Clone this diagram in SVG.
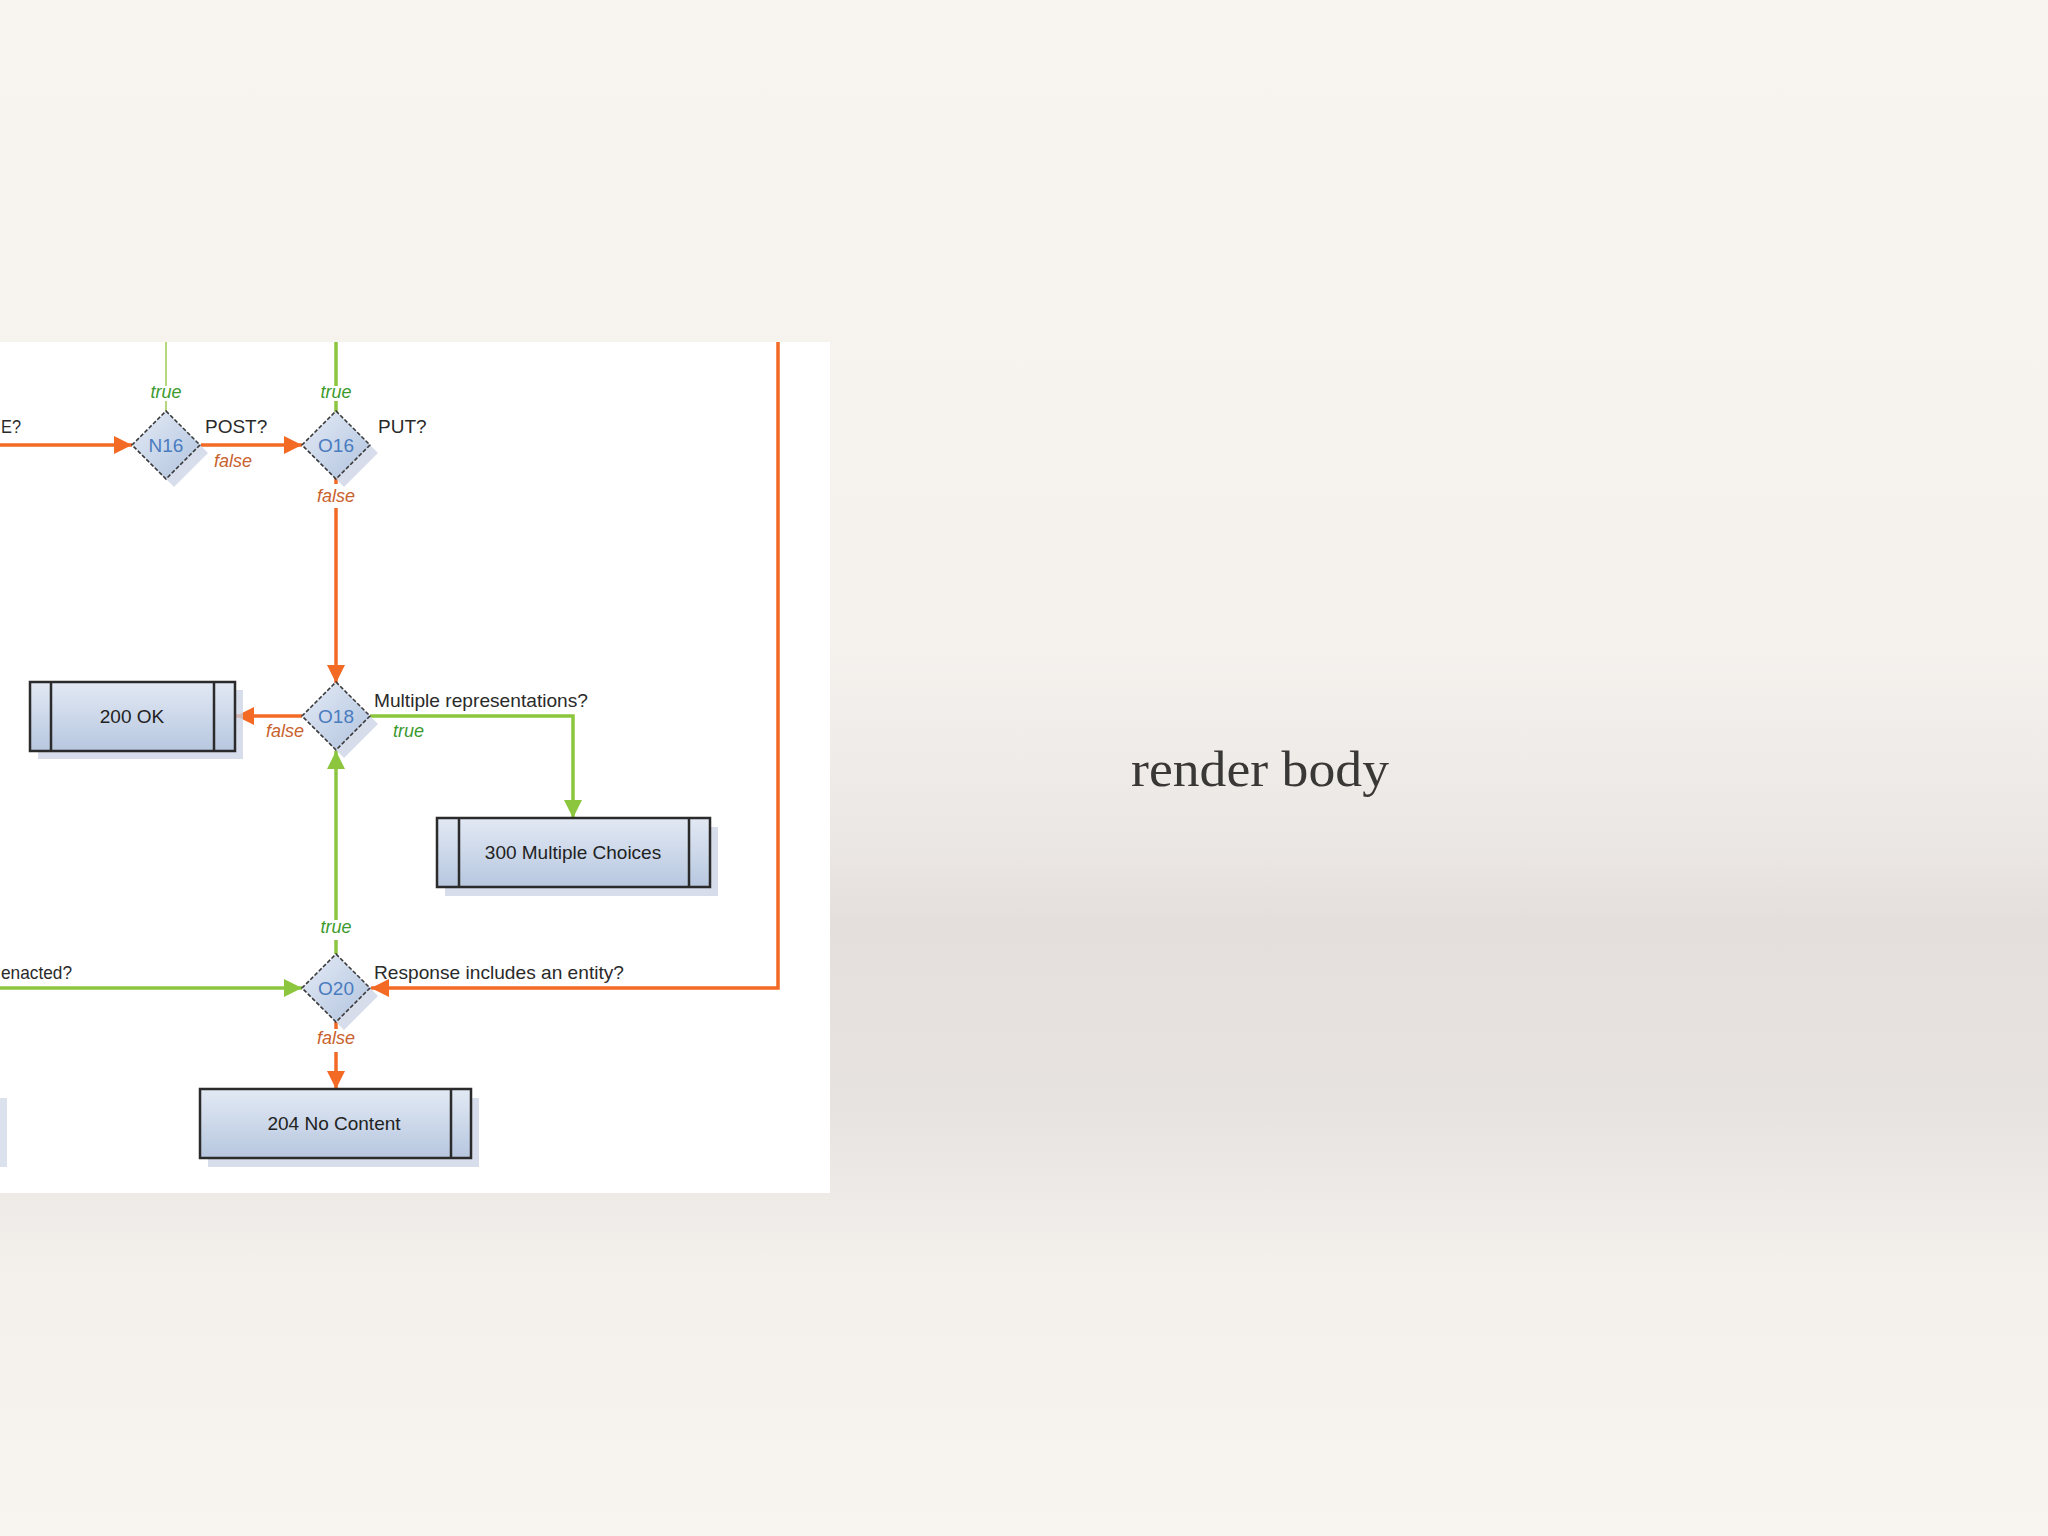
<svg xmlns="http://www.w3.org/2000/svg" width="2048" height="1536" viewBox="0 0 2048 1536">
<defs>
  <linearGradient id="bg" x1="0" y1="0" x2="0" y2="1">
    <stop offset="0" stop-color="#f8f5f0"/>
    <stop offset="0.42" stop-color="#f5f2ee"/>
    <stop offset="0.55" stop-color="#ebe7e4"/>
    <stop offset="0.6" stop-color="#e4dfdd"/>
    <stop offset="0.72" stop-color="#e7e3e0"/>
    <stop offset="0.82" stop-color="#f3f0ec"/>
    <stop offset="1" stop-color="#f8f5f0"/>
  </linearGradient>
  <linearGradient id="boxFill" x1="0" y1="0" x2="0" y2="1">
    <stop offset="0" stop-color="#e2e9f4"/>
    <stop offset="1" stop-color="#b7c7df"/>
  </linearGradient>
  <linearGradient id="diaFill" x1="0" y1="0" x2="1" y2="1">
    <stop offset="0" stop-color="#e4ebf6"/>
    <stop offset="1" stop-color="#b1c3de"/>
  </linearGradient>
  <marker id="arrO" viewBox="0 0 18 18" refX="18" refY="9" markerWidth="18" markerHeight="18" markerUnits="userSpaceOnUse" orient="auto">
    <path d="M0,0 L18,9 L0,18 Z" fill="#f26a24"/>
  </marker>
  <marker id="arrG" viewBox="0 0 18 18" refX="18" refY="9" markerWidth="18" markerHeight="18" markerUnits="userSpaceOnUse" orient="auto">
    <path d="M0,0 L18,9 L0,18 Z" fill="#8cc63f"/>
  </marker>
  <style>
    .lbl { font-family: "Liberation Sans", Arial, sans-serif; font-size: 19px; fill: #2a2a2a; }
    .node { font-family: "Liberation Sans", Arial, sans-serif; font-size: 19px; fill: #4a7cc0; text-anchor: middle; }
    .boxt { font-family: "Liberation Sans", Arial, sans-serif; font-size: 19px; fill: #222; text-anchor: middle; }
    .t { font-family: "Liberation Sans", Arial, sans-serif; font-size: 18px; font-style: italic; fill: #3c9a2e; }
    .f { font-family: "Liberation Sans", Arial, sans-serif; font-size: 18px; font-style: italic; fill: #c9622e; }
    .or { fill: none; stroke: #f26a24; stroke-width: 3.5; }
    .gr { fill: none; stroke: #8cc63f; stroke-width: 3.5; }
    .grl { fill: none; stroke: #b6d77c; stroke-width: 2; }
    .dia { fill: url(#diaFill); stroke: #3a3a3a; stroke-width: 1.6; stroke-dasharray: 4 2; }
    .shadow { fill: #c9d2e3; opacity: 0.75; }
    .box { fill: url(#boxFill); stroke: #2b2b2b; stroke-width: 2.5; }
    .bar { stroke: #2b2b2b; stroke-width: 2.5; }
  </style>
</defs>

<rect x="0" y="0" width="2048" height="1536" fill="url(#bg)"/>

<!-- white panel -->
<rect x="0" y="342" width="830" height="851" fill="#ffffff"/>

<!-- partial box at left edge -->
<rect x="0" y="1098" width="7" height="69" fill="#dbe2ee"/>

<!-- connectors -->
<g id="connectors">
  <path class="or" d="M0,445 H132" marker-end="url(#arrO)"/>
  <path class="or" d="M201,445 H302" marker-end="url(#arrO)"/>
  <path class="grl" d="M166,342 V386 M166,401 V413"/>
  <path class="gr" d="M336,342 V386 M336,401 V413"/>
  <path class="or" d="M336,477 V484"/>
  <path class="or" d="M336,508 V683" marker-end="url(#arrO)"/>
  <path class="or" d="M302,716 H236" marker-end="url(#arrO)"/>
  <path class="gr" d="M370,716 H573 V818" marker-end="url(#arrG)"/>
  <path class="gr" d="M336,954 V940"/>
  <path class="gr" d="M336,920 V751" marker-end="url(#arrG)"/>
  <path class="gr" d="M0,988 H302" marker-end="url(#arrG)"/>
  <path class="or" d="M778,342 V988 H371" marker-end="url(#arrO)"/>
  <path class="or" d="M336,1022 V1029"/>
  <path class="or" d="M336,1052 V1089" marker-end="url(#arrO)"/>
</g>

<!-- edge labels -->
<g id="edge-labels">
  <text class="lbl" x="1" y="433" textLength="20" lengthAdjust="spacingAndGlyphs">E?</text>
  <text class="t" x="166" y="398" text-anchor="middle">true</text>
  <text class="t" x="336" y="398" text-anchor="middle">true</text>
  <text class="lbl" x="205" y="433">POST?</text>
  <text class="f" x="214" y="467">false</text>
  <text class="lbl" x="378" y="433">PUT?</text>
  <text class="f" x="336" y="502" text-anchor="middle">false</text>
  <text class="lbl" x="374" y="707" textLength="214" lengthAdjust="spacingAndGlyphs">Multiple representations?</text>
  <text class="f" x="304" y="737" text-anchor="end">false</text>
  <text class="t" x="393" y="737">true</text>
  <text class="t" x="336" y="933" text-anchor="middle">true</text>
  <text class="lbl" x="1" y="979" textLength="71" lengthAdjust="spacingAndGlyphs">enacted?</text>
  <text class="lbl" x="374" y="979" textLength="250" lengthAdjust="spacingAndGlyphs">Response includes an entity?</text>
  <text class="f" x="336" y="1044" text-anchor="middle">false</text>
</g>

<!-- decision nodes -->
<g id="N16">
  <path class="shadow" d="M174,419 L208,453 L174,487 L140,453 Z"/>
  <path class="dia" d="M166,411 L200,445 L166,479 L132,445 Z"/>
  <text class="node" x="166" y="452">N16</text>
</g>
<g id="O16">
  <path class="shadow" d="M344,419 L378,453 L344,487 L310,453 Z"/>
  <path class="dia" d="M336,411 L370,445 L336,479 L302,445 Z"/>
  <text class="node" x="336" y="452">O16</text>
</g>
<g id="O18">
  <path class="shadow" d="M344,690 L378,724 L344,758 L310,724 Z"/>
  <path class="dia" d="M336,682 L370,716 L336,750 L302,716 Z"/>
  <text class="node" x="336" y="723">O18</text>
</g>
<g id="O20">
  <path class="shadow" d="M344,962 L378,996 L344,1030 L310,996 Z"/>
  <path class="dia" d="M336,954 L370,988 L336,1022 L302,988 Z"/>
  <text class="node" x="336" y="995">O20</text>
</g>

<!-- status boxes -->
<g id="s200">
  <rect class="shadow" x="38" y="690" width="205" height="69"/>
  <rect class="box" x="30" y="682" width="205" height="69"/>
  <line class="bar" x1="51" y1="682" x2="51" y2="751"/>
  <line class="bar" x1="214" y1="682" x2="214" y2="751"/>
  <text class="boxt" x="132" y="723">200 OK</text>
</g>
<g id="s300">
  <rect class="shadow" x="445" y="827" width="273" height="69"/>
  <rect class="box" x="437" y="818" width="273" height="69"/>
  <line class="bar" x1="459" y1="818" x2="459" y2="887"/>
  <line class="bar" x1="689" y1="818" x2="689" y2="887"/>
  <text class="boxt" x="573" y="859">300 Multiple Choices</text>
</g>
<g id="s204">
  <rect class="shadow" x="208" y="1098" width="271" height="69"/>
  <rect class="box" x="200" y="1089" width="271" height="69"/>
  <line class="bar" x1="451" y1="1089" x2="451" y2="1158"/>
  <text class="boxt" x="334" y="1130">204 No Content</text>
</g>

<!-- slide text -->
<text x="1131" y="786" font-family="'Liberation Serif', 'DejaVu Serif', serif" font-size="50" fill="#3a3836" textLength="258" lengthAdjust="spacingAndGlyphs">render body</text>
</svg>
